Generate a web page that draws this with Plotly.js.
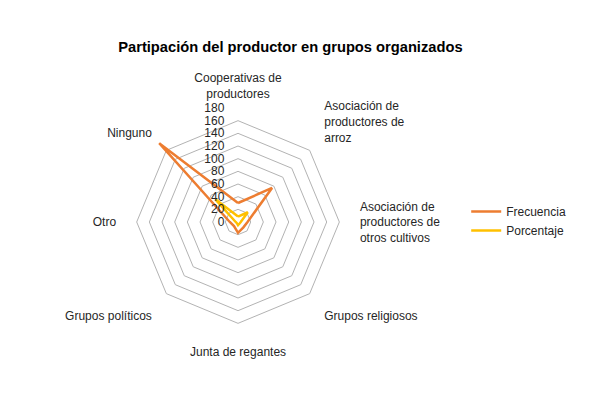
<!DOCTYPE html>
<html>
<head>
<meta charset="utf-8">
<script src="https://cdn.plot.ly/plotly-3.0.1.min.js"></script>
<style>html,body{margin:0;padding:0;background:#fff;}#chart{width:600px;height:400px;}</style>
</head>
<body>
<div id="chart"></div>
<script>
const categories = [
  "Cooperativas de<br>productores",
  "Asociación de<br>productores de<br>arroz",
  "Asociación de<br>productores de<br>otros cultivos",
  "Grupos religiosos",
  "Junta de regantes",
  "Grupos políticos",
  "Otro",
  "Ninguno"
];
const frecuencia = [30, 76, 15, 12, 17, 9, 13, 176];
const porcentaje = [8.6, 21.8, 4.3, 3.4, 4.9, 2.6, 3.7, 50.6];
const seriesNames = ["Frecuencia", "Porcentaje"];
const radialTicks = [0, 20, 40, 60, 80, 100, 120, 140, 160, 180];

function closed(a) { return a.concat([a[0]]); }

const traces = [
  {type: 'scatterpolar', mode: 'lines', name: seriesNames[0],
   r: closed(frecuencia), theta: closed(categories),
   line: {color: '#ED7D31', width: 2.5}},
  {type: 'scatterpolar', mode: 'lines', name: seriesNames[1],
   r: closed(porcentaje), theta: closed(categories),
   line: {color: '#FFC000', width: 2.5}}
];

const layout = {
  width: 600, height: 400,
  margin: {l: 0, r: 0, t: 0, b: 0},
  paper_bgcolor: '#fff',
  font: {family: 'Liberation Sans, Arial, sans-serif', size: 12, color: '#262626'},
  title: {text: '<b>Partipación del productor en grupos organizados</b>',
          font: {size: 14.7, color: '#000'}, x: 0.484, xanchor: 'center', y: 0.883, yanchor: 'middle'},
  showlegend: true,
  legend: {x: 0.777, y: 0.4475, xanchor: 'left', yanchor: 'middle', font: {size: 12}, tracegroupgap: 4},
  polar: {
    domain: {x: [0.2067, 0.5867], y: [0.16, 0.73]},
    gridshape: 'linear',
    bgcolor: 'rgba(0,0,0,0)',
    angularaxis: {
      direction: 'clockwise', rotation: 90,
      showgrid: false, showline: false,
      ticks: 'outside', ticklen: 5, tickcolor: 'rgba(0,0,0,0)',
      categoryorder: 'array', categoryarray: categories,
      tickfont: {size: 12}
    },
    radialaxis: {
      range: [0, 180], tickvals: radialTicks, angle: 90, side: 'counterclockwise',
      showline: false, ticks: 'outside', ticklen: 9, tickcolor: 'rgba(0,0,0,0)', tickangle: 90,
      gridcolor: '#b3b3b3', gridwidth: 1,
      tickfont: {size: 12}
    }
  }
};

Plotly.newPlot('chart', traces, layout, {displayModeBar: false, staticPlot: true});
</script>
</body>
</html>
